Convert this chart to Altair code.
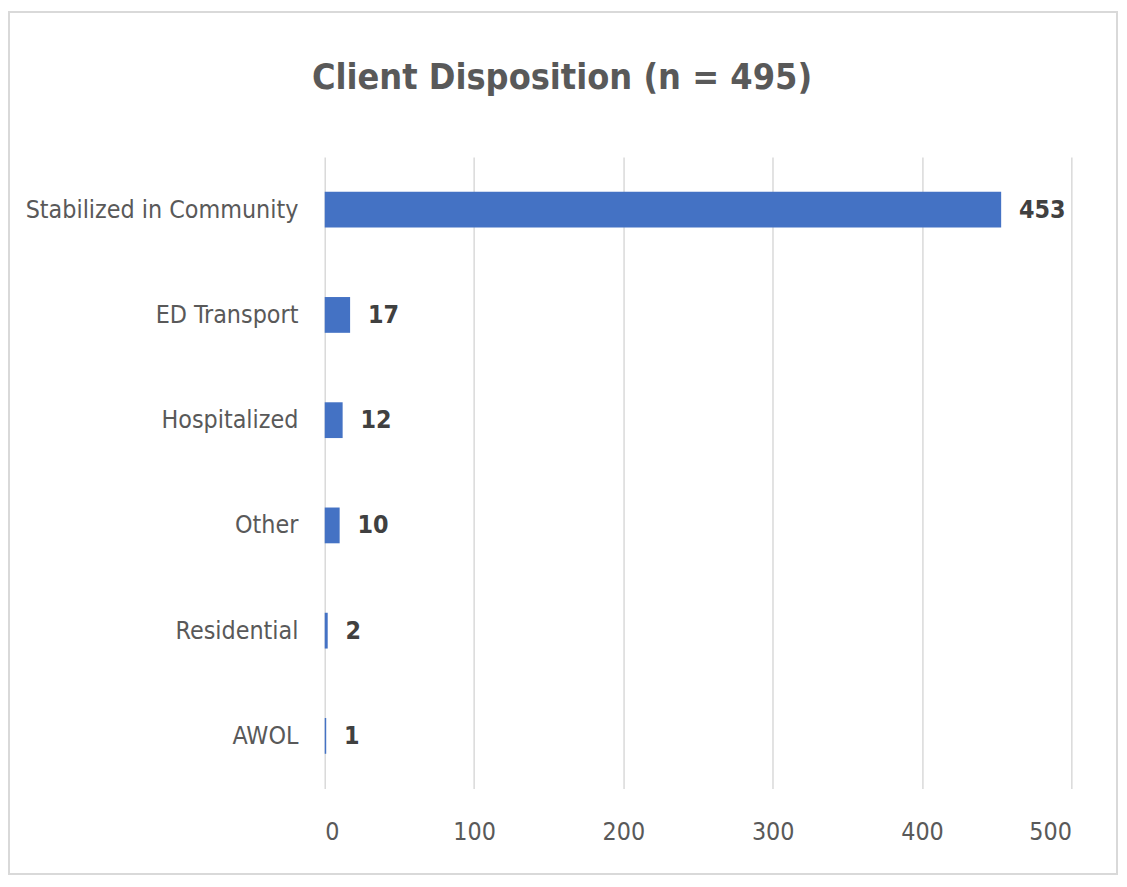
import altair as alt
import pandas as pd

categories = ["Stabilized in Community", "ED Transport", "Hospitalized", "Other", "Residential", "AWOL"]
values = [453, 17, 12, 10, 2, 1]
x_ticks = [0, 100, 200, 300, 400, 500]
title_text = "Client Disposition (n = 495)"

df = pd.DataFrame({"category": categories, "value": values})

FONT = "DejaVu Sans Condensed, Roboto, sans-serif"
W, H = 752, 636

x_scale = alt.Scale(domain=[0, 500], nice=False)
y_sort = categories

bars = alt.Chart(df).mark_bar(color="#4472C4").encode(
    x=alt.X("value:Q", scale=x_scale,
            axis=alt.Axis(values=x_ticks, title=None, domain=False, ticks=False,
                          grid=True, gridColor="#d9d9d9", gridWidth=1.5,
                          labelFont=FONT, labelFontSize=25, labelColor="#595959",
                          labelPadding=31)),
    y=alt.Y("category:N", sort=y_sort,
            scale=alt.Scale(paddingInner=0.66, paddingOuter=0.33),
            axis=alt.Axis(title=None, domain=False, ticks=False, grid=False,
                          labelFont=FONT, labelFontSize=25, labelColor="#595959",
                          labelPadding=27, labelLimit=400)),
)

labels = alt.Chart(df).mark_text(
    align="left", baseline="middle", dx=18, font=FONT, fontSize=25,
    fontWeight="bold", color="#404040"
).encode(
    x=alt.X("value:Q", scale=x_scale),
    y=alt.Y("category:N", sort=y_sort),
    text=alt.Text("value:Q"),
)

title = alt.Chart(pd.DataFrame({"t": [title_text]})).mark_text(
    align="center", baseline="middle", font=FONT, fontSize=36,
    fontWeight="bold", color="#595959", clip=False
).encode(
    text="t:N", x=alt.value(239), y=alt.value(-80),
)

frame = alt.Chart(pd.DataFrame({"a": [0]})).mark_rect(
    fill=None, stroke="#d9d9d9", strokeWidth=2, clip=False
).encode(
    x=alt.value(-318), x2=alt.value(W + 46),
    y=alt.value(-146), y2=alt.value(H + 86),
)

chart = alt.layer(frame, bars, labels, title).properties(
    width=W, height=H,
    background="white",
    autosize=alt.AutoSizeParams(type="none"),
    padding={"left": 319, "top": 147, "right": 48, "bottom": 88},
).configure_view(stroke=None, strokeWidth=0)

chart.save("out.html", embed_options={"renderer": "svg", "actions": False})
